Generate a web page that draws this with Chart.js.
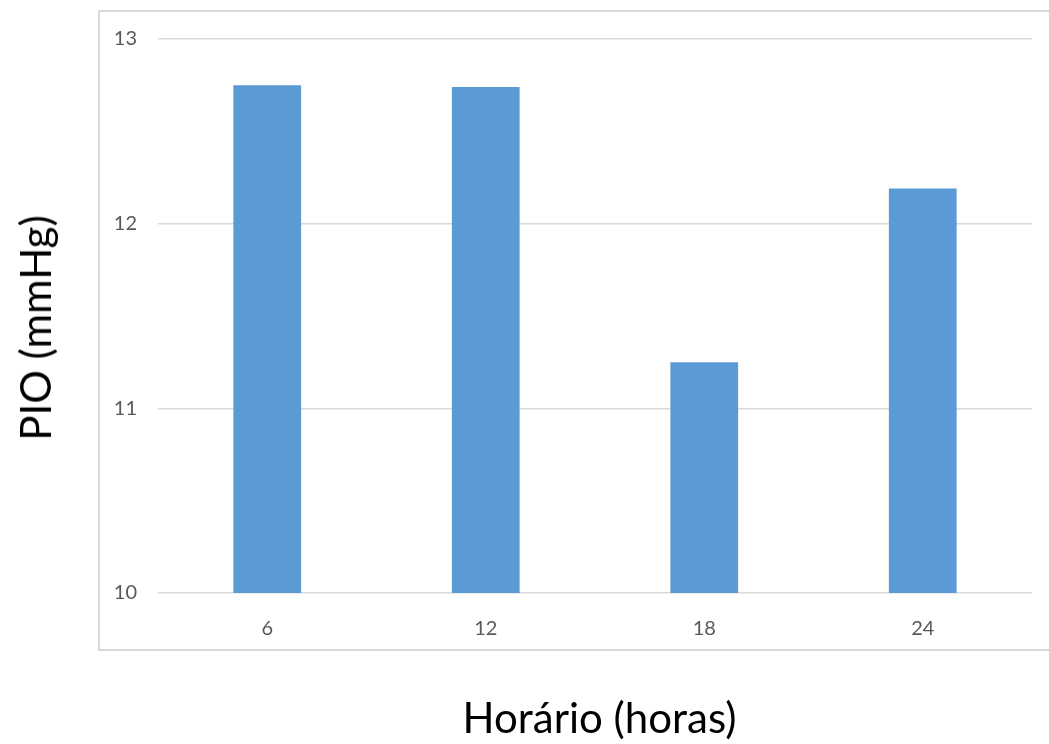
<!DOCTYPE html>
<html>
<head>
<meta charset="utf-8">
<script src="https://cdn.jsdelivr.net/npm/chart.js@4/dist/chart.umd.min.js"></script>
<style>
  html, body { margin: 0; padding: 0; background: #ffffff; }
  #wrap { position: relative; width: 1049px; height: 744px; overflow: hidden; }
  #frame {
    position: absolute; left: 98px; top: 10px; width: 960px; height: 641px;
    border: 2px solid #d9d9d9; box-sizing: border-box;
  }
  #chart { position: absolute; left: 0; top: 0; }
  .axis-title {
    position: absolute; font-family: Lato, "Open Sans", sans-serif;
    font-size: 42px; line-height: 1; color: #000000; white-space: nowrap;
  }
  #ytitle { left: 34.5px; top: 328px; transform: translate(-50%, -50%) rotate(-90deg); }
  #xtitle { left: 599.5px; top: 717px; transform: translate(-50%, -50%); }
</style>
</head>
<body>
<div id="wrap">
  <div id="frame"></div>
  <canvas id="chart" width="1049" height="744"></canvas>
  <div class="axis-title" id="ytitle">PIO (mmHg)</div>
  <div class="axis-title" id="xtitle">Horário (horas)</div>
</div>
<script>
// Intraocular pressure by time of day
const hours = ['6', '12', '18', '24'];
const pioValues = [12.75, 12.74, 11.25, 12.19];
const yTicks = [10, 11, 12, 13];

const tickFont = { family: 'Lato, "Open Sans", sans-serif', size: 20 };

new Chart(document.getElementById('chart'), {
  type: 'bar',
  data: {
    labels: hours,
    datasets: [{
      label: 'PIO (mmHg)',
      data: pioValues,
      backgroundColor: '#5b9bd5',
      borderWidth: 0,
      barPercentage: 0.31,
      categoryPercentage: 1.0
    }]
  },
  options: {
    responsive: false,
    animation: false,
    layout: { padding: { left: 100, right: 17, top: 39, bottom: 0 } },
    plugins: { legend: { display: false }, tooltip: { enabled: false } },
    scales: {
      x: {
        grid: { display: false },
        border: { display: false },
        ticks: { color: '#595959', font: tickFont, padding: 16 },
        afterFit: (scale) => { scale.height = 151; }
      },
      y: {
        min: yTicks[0],
        max: yTicks[yTicks.length - 1],
        afterBuildTicks: (scale) => { scale.ticks = yTicks.map(v => ({ value: v })); },
        grid: { color: '#d9d9d9', lineWidth: 1.5, drawTicks: false },
        border: { display: false },
        ticks: { color: '#595959', font: tickFont, padding: 21 },
        afterFit: (scale) => { scale.width = 58; }
      }
    }
  }
});
</script>
</body>
</html>
